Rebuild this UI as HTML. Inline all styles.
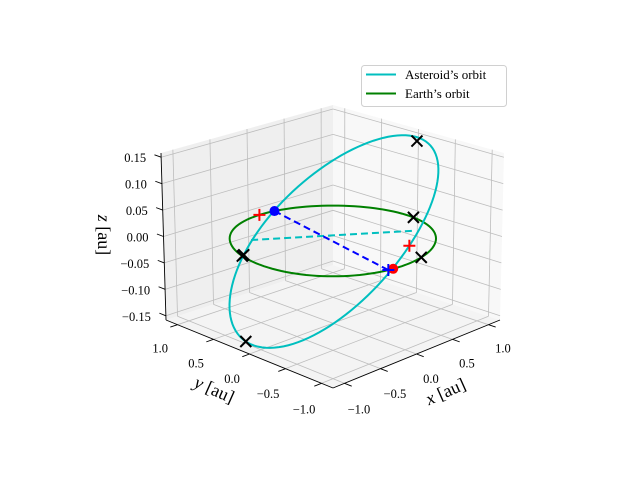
<!DOCTYPE html>
<html><head><meta charset="utf-8">
<style>
html,body{margin:0;padding:0;background:#fff;}
svg{display:block;font-family:"Liberation Serif","DejaVu Serif",serif;}
</style></head>
<body>
<svg id="chart" width="640" height="480" viewBox="0 0 640 480" xmlns="http://www.w3.org/2000/svg">
<rect width="640" height="480" fill="#fff"/>
<g id="panes"></g><g id="grid"></g><g id="data"></g><g id="axes"></g>
<g>
<rect x="361.5" y="65.5" width="145" height="41" rx="3" fill="#fff" fill-opacity="0.8" stroke="#d0d0d0"/>
<line x1="366" y1="74.5" x2="396" y2="74.5" stroke="#00bfbf" stroke-width="2"/>
<text x="405" y="79" font-size="13">Asteroid’s orbit</text>
<line x1="366" y1="93.5" x2="396" y2="93.5" stroke="#008000" stroke-width="2"/>
<text x="405" y="98" font-size="13">Earth’s orbit</text>
</g>
<text x="0" y="0" font-size="18" text-anchor="middle" transform="translate(448,397) rotate(-24)"><tspan font-style="italic">x</tspan> [au]</text>
<text x="0" y="0" font-size="18" text-anchor="middle" transform="translate(212,395) rotate(24)"><tspan font-style="italic">y</tspan> [au]</text>
<text x="0" y="0" font-size="18" text-anchor="middle" transform="translate(98,235) rotate(90)"><tspan font-style="italic">z</tspan> [au]</text>
</svg>
<script>
// ---- data ----
const xTicks = [-1.0, -0.5, 0.0, 0.5, 1.0];
const yTicks = [-1.0, -0.5, 0.0, 0.5, 1.0];
const zTicks = [-0.15, -0.10, -0.05, 0.00, 0.05, 0.10, 0.15];
const xTickLabels = ["−1.0","−0.5","0.0","0.5","1.0"];
const yTickLabels = ["−1.0","−0.5","0.0","0.5","1.0"];
const zTickLabels = ["−0.15","−0.10","−0.05","0.00","0.05","0.10","0.15"];
const earthRadius = [1.0];
const asteroidSemiAxes = [1.032, 1.0];
const asteroidInclinationDeg = [8.6];
const asteroidNodeDeg = [80];
const blueDot = [0.182, 0.983, 0.0];
const redDot = [-0.160, -0.987, 0.0];
const bluePlus = [-0.216, -0.976, 0.0];
const redPlusX = [-0.007, 0.047];
const redPlusY = [1.0, -0.999];
const redPlusZ = [0.0, 0.033];
const crossX = [0.95, -0.260, -1.0, 0.994, 0.242, -0.959];
const crossY = [-0.19, 0.969, 0.211, -0.110, -0.970, 0.282];
const crossZ = [0.152, -0.064, -0.154, 0.0, 0.0, 0.0];
const cyanDashStart = [-0.58, 0.54, 0.0];
const cyanDashEnd = [0.71, -0.38, 0.0];

// ---- projection ----
const XMIN=-1.16, XMAX=1.16, YMIN=-1.16, YMAX=1.16, ZMIN=-0.158, ZMAX=0.158;
const C = {"000":[333,388],"100":[500,320],"010":[166,320],"110":[333,265],
           "001":[333,214],"101":[504,153],"011":[161,153],"111":[333,105]};
function proj(x,y,z){
  const u=(x-XMIN)/(XMAX-XMIN), v=(y-YMIN)/(YMAX-YMIN), w=(z-ZMIN)/(ZMAX-ZMIN);
  let sx=0, sy=0;
  for(const i of [0,1]) for(const j of [0,1]) for(const k of [0,1]){
    const wt=(i?u:1-u)*(j?v:1-v)*(k?w:1-w);
    const c=C[""+i+j+k]; sx+=wt*c[0]; sy+=wt*c[1];
  }
  return [sx,sy];
}
const NS="http://www.w3.org/2000/svg";
function mk(parent,tag,attrs){const e=document.createElementNS(NS,tag);for(const k in attrs)e.setAttribute(k,attrs[k]);document.getElementById(parent).appendChild(e);return e;}
function pts(arr){return arr.map(p=>{const q=proj(p[0],p[1],p[2]);return q[0].toFixed(2)+","+q[1].toFixed(2);}).join(" ");}

let e;
e=mk("panes","polygon",{points:pts([[XMIN,YMIN,ZMIN],[XMAX,YMIN,ZMIN],[XMAX,YMAX,ZMIN],[XMIN,YMAX,ZMIN]]),fill:"#f4f4f4"});


e=mk("panes","polygon",{points:pts([[XMIN,YMAX,ZMIN],[XMAX,YMAX,ZMIN],[XMAX,YMAX,ZMAX],[XMIN,YMAX,ZMAX]]),fill:"#efefef"});


e=mk("panes","polygon",{points:pts([[XMAX,YMIN,ZMIN],[XMAX,YMAX,ZMIN],[XMAX,YMAX,ZMAX],[XMAX,YMIN,ZMAX]]),fill:"#f8f8f8"});



function gl(a,b){const p=proj(...a),q=proj(...b);
  const l=mk("grid","line",{x1:p[0],y1:p[1],x2:q[0],y2:q[1],stroke:"#bdbdbd","stroke-width":0.8});
  
  }
xTicks.forEach(t=>{gl([t,YMIN,ZMIN],[t,YMAX,ZMIN]);gl([t,YMAX,ZMIN],[t,YMAX,ZMAX]);});
yTicks.forEach(t=>{gl([XMIN,t,ZMIN],[XMAX,t,ZMIN]);gl([XMAX,t,ZMIN],[XMAX,t,ZMAX]);});
zTicks.forEach(t=>{gl([XMIN,YMAX,t],[XMAX,YMAX,t]);gl([XMAX,YMIN,t],[XMAX,YMAX,t]);});

function ax(a,b,name){const p=proj(...a),q=proj(...b);
  const l=mk("axes","line",{x1:p[0],y1:p[1],x2:q[0],y2:q[1],stroke:"#000","stroke-width":0.9});
  
  }
ax([XMIN,YMIN,ZMIN],[XMAX,YMIN,ZMIN],'x-axis-line');
ax([XMIN,YMIN,ZMIN],[XMIN,YMAX,ZMIN],'y-axis-line');
ax([XMIN,YMAX,ZMIN],[XMIN,YMAX,ZMAX],'z-axis-line');
function tickLabel(x,y,s,name,anchor){const t=mk("axes","text",{x:x,y:y,"font-size":12.5,"text-anchor":anchor||"middle"});t.textContent=s;
  
  }
xTicks.forEach((t,i)=>{const p=proj(t,YMIN,ZMIN),q=proj(t,YMIN-0.1,ZMIN);
  const l=mk("axes","line",{x1:p[0],y1:p[1],x2:q[0],y2:q[1],stroke:"#000","stroke-width":0.9});
  
  
  const r=proj(t,YMIN-0.45,ZMIN); tickLabel(r[0]-18,r[1]+17,xTickLabels[i],'x-tick-label');});
yTicks.forEach((t,i)=>{const p=proj(XMIN,t,ZMIN),q=proj(XMIN-0.1,t,ZMIN);
  const l=mk("axes","line",{x1:p[0],y1:p[1],x2:q[0],y2:q[1],stroke:"#000","stroke-width":0.9});
  
  
  const r=proj(XMIN-0.45,t,ZMIN); tickLabel(r[0]+15,r[1]+17,yTickLabels[i],'y-tick-label');});
zTicks.forEach((t,i)=>{const p=proj(XMIN,YMAX,t),q=proj(XMIN,YMAX+0.09,t);
  const l=mk("axes","line",{x1:p[0],y1:p[1],x2:q[0],y2:q[1],stroke:"#000","stroke-width":0.9});
  
  
  tickLabel(p[0]-15,p[1]+5,zTickLabels[i],'z-tick-label','end');});

const earthPts=[];
for(let d=0;d<=360;d+=3){const a=d*Math.PI/180;earthPts.push([earthRadius[0]*Math.cos(a),earthRadius[0]*Math.sin(a),0]);}
e=mk("data","polyline",{points:pts(earthPts),fill:"none",stroke:"#008000","stroke-width":2});



const inc=asteroidInclinationDeg[0]*Math.PI/180, om=asteroidNodeDeg[0]*Math.PI/180;
const N=[Math.cos(om),Math.sin(om),0];
const P=[Math.cos(om-Math.PI/2)*Math.cos(inc),Math.sin(om-Math.PI/2)*Math.cos(inc),Math.sin(inc)];
const astPts=[];
for(let d=0;d<=360;d+=3){const t=d*Math.PI/180,ca=asteroidSemiAxes[0]*Math.cos(t),sb=asteroidSemiAxes[1]*Math.sin(t);
  astPts.push([ca*P[0]+sb*N[0],ca*P[1]+sb*N[1],ca*P[2]+sb*N[2]]);}
e=mk("data","polyline",{points:pts(astPts),fill:"none",stroke:"#00bfbf","stroke-width":2});



e=mk("data","polyline",{points:pts([cyanDashStart,cyanDashEnd]),fill:"none",stroke:"#00bfbf","stroke-width":2,"stroke-dasharray":"7,4"});


e=mk("data","polyline",{points:pts([blueDot,bluePlus]),fill:"none",stroke:"#0000ff","stroke-width":2,"stroke-dasharray":"7,4"});



function plus(p,col,name){const q=proj(...p);
  const g=mk("data","path",{d:`M${q[0]-6},${q[1]}H${q[0]+6}M${q[0]},${q[1]-6}V${q[1]+6}`,stroke:col,"stroke-width":2,fill:"none"});
  
  }
function cross(p){const q=proj(...p);
  const g=mk("data","path",{d:`M${q[0]-5.5},${q[1]-5.5}L${q[0]+5.5},${q[1]+5.5}M${q[0]-5.5},${q[1]+5.5}L${q[0]+5.5},${q[1]-5.5}`,stroke:"#000","stroke-width":2,fill:"none"});
  
  }
function dot(p,col,name){const q=proj(...p);
  const c=mk("data","circle",{cx:q[0],cy:q[1],r:5,fill:col});
  
  }
crossX.forEach((x,i)=>cross([x,crossY[i],crossZ[i]]));
dot(blueDot,"#0000ff",'earth-position-dot');
dot(redDot,"#ff0000",'asteroid-position-dot');
redPlusX.forEach((x,i)=>plus([x,redPlusY[i],redPlusZ[i]],"#ff0000",'red-plus-marker'));
plus(bluePlus,"#0000ff",'blue-plus-marker');
</script>
</body></html>
